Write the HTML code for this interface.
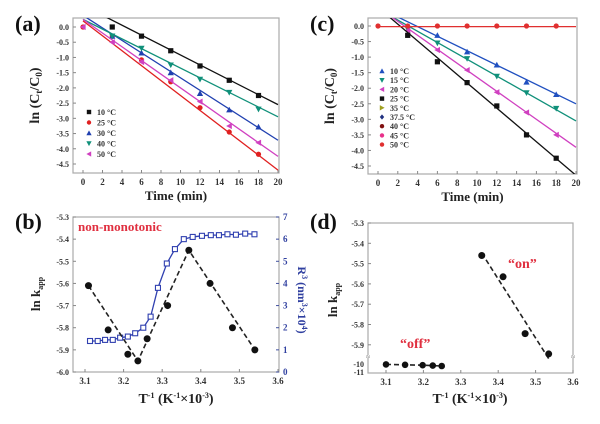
<!DOCTYPE html>
<html><head><meta charset="utf-8"><style>
body{margin:0;background:#fff;width:600px;height:419px;overflow:hidden}
svg{font-family:"Liberation Serif",serif;font-weight:bold}
</style></head><body>
<svg id="fig" width="600" height="419" viewBox="0 0 600 419"></svg>
<script>
// ---- panel (a) data ----
const aSeriesNames=["10 °C","25 °C","30 °C","40 °C","50 °C"];
const aColors=["#111","#e02020","#2040b0","#10907a","#d040c0"];
const aShapes=["sq","ci","tu","td","tl"];
const aTimes=[[3,6,9,12,15,18],[0,3,6,9,12,15,18],[3,6,9,12,15,18],[3,6,9,12,15,18],[0,3,6,9,12,15,18]];
const aVals=[[0.0,-0.3,-0.78,-1.28,-1.75,-2.25],[0.0,-0.3,-1.08,-1.8,-2.65,-3.45,-4.18],[-0.3,-0.85,-1.5,-2.18,-2.72,-3.28],[-0.3,-0.7,-1.25,-1.72,-2.15,-2.7],[0.0,-0.5,-1.15,-1.75,-2.45,-3.25,-3.8]];
const aLineEnd=[-2.55,-4.7,-3.72,-2.95,-4.25];
const aLineSlope=[-0.163,-0.245,-0.205,-0.16,-0.225];
// ---- panel (c) data ----
const cSeriesNames=["10 °C","15 °C","20 °C","25 °C","35 °C","37.5 °C","40 °C","45 °C","50 °C"];
const cColors=["#2050c0","#10907a","#d040c0","#111","#a0a020","#203080","#801010","#e8308a","#e03030"];
const cShapes=["tu","td","tl","sq","tr","di","ci","ci","ci"];
const cTimes=[[6,9,12,15,18],[3,6,9,12,15,18],[3,6,9,12,15,18],[3,6,9,12,15,18],[],[],[],[],[0,3,6,9,12,15,18]];
const cVals=[[-0.3,-0.83,-1.25,-1.8,-2.2],[-0.1,-0.55,-1.05,-1.62,-2.15,-2.65],[-0.15,-0.77,-1.42,-2.13,-2.78,-3.5],[-0.3,-1.15,-1.82,-2.57,-3.5,-4.25],[],[],[],[],[0,0,0,0,0,0,0]];
const cLineEnd=[-2.5,-3.05,-3.9,-4.8,null,null,null,null,-0.02];
const cLineSlope=[-0.155,-0.18,-0.225,-0.27,0,0,0,0,0];
// ---- panel (b) data ----
const bX=[3.109,3.160,3.211,3.237,3.261,3.314,3.369,3.424,3.482,3.540];
const bY=[-5.61,-5.81,-5.92,-5.95,-5.85,-5.70,-5.45,-5.60,-5.80,-5.90];
const bFitX=[3.109,3.237,3.369,3.540];
const bFitY=[-5.61,-5.95,-5.45,-5.90];
const bRX=[3.113,3.133,3.152,3.172,3.191,3.211,3.230,3.251,3.270,3.289,3.312,3.333,3.356,3.379,3.403,3.426,3.447,3.469,3.491,3.515,3.539];
const bRY=[1.4,1.4,1.45,1.45,1.55,1.6,1.75,2.0,2.5,3.8,4.9,5.55,6.0,6.1,6.15,6.18,6.18,6.22,6.2,6.25,6.22];
// ---- panel (d) data ----
const dOnX=[3.356,3.413,3.472,3.535];
const dOnY=[-5.46,-5.565,-5.845,-5.945];
const dOffX=[3.10,3.151,3.198,3.225,3.249];
const dOffY=[-10.05,-10.1,-10.15,-10.2,-10.25];

const svg=document.getElementById('fig');
const NS="http://www.w3.org/2000/svg";
function mk(tag,attrs,parent){const e=document.createElementNS(NS,tag);for(const k in attrs)e.setAttribute(k,attrs[k]);(parent||svg).appendChild(e);return e;}
function txt(x,y,s,size,anchor,fill,parent){const t=mk('text',{x:x,y:y,'font-size':size,'text-anchor':anchor||'middle',fill:fill||'#222'},parent);t.textContent=s;return t;}
function marker(shape,x,y,r,color,parent){
  let e;
  if(shape==='sq')e=mk('rect',{x:x-r,y:y-r,width:2*r,height:2*r,fill:color},parent);
  else if(shape==='ci')e=mk('circle',{cx:x,cy:y,r:r,fill:color},parent);
  else if(shape==='di')e=mk('polygon',{points:`${x},${y-r*1.2} ${x+r},${y} ${x},${y+r*1.2} ${x-r},${y}`,fill:color},parent);
  else{let p;
    if(shape==='tu')p=`${x},${y-r*1.2} ${x+r*1.2},${y+r} ${x-r*1.2},${y+r}`;
    if(shape==='td')p=`${x},${y+r*1.2} ${x+r*1.2},${y-r} ${x-r*1.2},${y-r}`;
    if(shape==='tl')p=`${x-r*1.2},${y} ${x+r},${y-r*1.2} ${x+r},${y+r*1.2}`;
    if(shape==='tr')p=`${x+r*1.2},${y} ${x-r},${y-r*1.2} ${x-r},${y+r*1.2}`;
    e=mk('polygon',{points:p,fill:color},parent);}
  return e;
}
function frame(L,T,R,B,name){const g=mk('g',{});
  mk('rect',{x:L,y:T,width:R-L,height:B-T,fill:'none',stroke:'#aaa','stroke-width':1.2},g);return g;}
function clip(id,L,T,R,B){const c=mk('clipPath',{id:id});mk('rect',{x:L,y:T,width:R-L,height:B-T},c);}

function timePanel(opt){
  const {L,R,T,B,x0px,x20px,y0px,y45px,names,colors,shapes,times,vals,ends,slopes,legX,legY,legStep,label,pfx}=opt;
  const sx=t=>x0px+(x20px-x0px)*t/20;
  const sy=v=>y0px+(y45px-y0px)*(v/-4.5);
  frame(L,T,R,B,pfx+'-plot-area');
  clip(pfx+'clip',L,T,R,B);
  const ax=mk('g',{});
  for(let t=0;t<=20;t+=2){mk('line',{x1:sx(t),x2:sx(t),y1:B,y2:B-3,stroke:'#888'},ax);txt(sx(t),B+12,String(t),9,'middle','#333',ax);}
  const ay=mk('g',{});
  for(let i=0;i<=9;i++){const v=-0.5*i;mk('line',{x1:L,x2:L+3,y1:sy(v),y2:sy(v),stroke:'#888'},ay);txt(L-4,sy(v)+3,v.toFixed(1),8,'end','#333',ay);}
  const xt=txt((L+R)/2,B+27,'Time (min)',13);
  const yt=txt(0,0,'',14);yt.setAttribute('transform',`translate(${L-34},${(T+B)/2}) rotate(-90)`);
  yt.innerHTML='ln (C<tspan font-size="9" dy="3">t</tspan><tspan dy="-3">/C</tspan><tspan font-size="9" dy="3">0</tspan><tspan dy="-3">)</tspan>';
  
  const pl=txt(L-58,T+13,label,22,'start','#111');
  for(let s=0;s<names.length;s++){
    if(ends[s]!==null){
      const x1=0,y1=ends[s]-slopes[s]*20;
      const ln=mk('line',{x1:sx(x1),y1:sy(y1),x2:sx(20),y2:sy(ends[s]),stroke:colors[s],'stroke-width':1.3,'clip-path':`url(#${pfx}clip)`});
      
    }
    for(let i=0;i<times[s].length;i++){
      const m=marker(shapes[s],sx(times[s][i]),sy(vals[s][i]),2.6,colors[s]);
      
    }
    const lg=mk('g',{});
    marker(shapes[s],legX,legY+s*legStep,2.2,colors[s],lg);
    txt(legX+8,legY+s*legStep+3,names[s],8,'start','#333',lg);
  }
}
timePanel({L:73,R:279,T:18,B:173,x0px:83,x20px:278,y0px:27,y45px:164,names:aSeriesNames,colors:aColors,shapes:aShapes,times:aTimes,vals:aVals,ends:aLineEnd,slopes:aLineSlope,legX:89,legY:112,legStep:10.5,label:'(a)',pfx:'a'});
timePanel({L:368,R:577,T:18,B:174,x0px:378,x20px:576,y0px:26,y45px:166,names:cSeriesNames,colors:cColors,shapes:cShapes,times:cTimes,vals:cVals,ends:cLineEnd,slopes:cLineSlope,legX:382,legY:71,legStep:9.2,label:'(c)',pfx:'c'});

(function(){
  const L=73,R=279,T=217,B=372;
  const sx=v=>85+(v-3.1)*386;
  const sy=v=>T+(B-T)*(v+5.3)/-0.7;
  const sr=v=>B-(B-T)*v/7;
  frame(L,T,R,B,'b-plot-area');
  const ax=mk('g',{});
  for(let i=0;i<=5;i++){const v=3.1+0.1*i;mk('line',{x1:sx(v),x2:sx(v),y1:B,y2:B-3,stroke:'#888'},ax);txt(sx(v),B+12,v.toFixed(1),9,'middle','#333',ax);}
  const ay=mk('g',{});
  for(let i=0;i<=7;i++){const v=-5.3-0.1*i;mk('line',{x1:L,x2:L+3,y1:sy(v),y2:sy(v),stroke:'#888'},ay);txt(L-4,sy(v)+3,v.toFixed(1),8,'end','#333',ay);}
  const ar=mk('g',{});
  for(let i=0;i<=7;i++){mk('line',{x1:R,x2:R-3,y1:sr(i),y2:sr(i),stroke:'#4050a0'},ar);txt(R+4,sr(i)+3,String(i),9,'start','#3040a0',ar);}
  const xt=txt(176,403,'',14);xt.innerHTML='T<tspan font-size="8" dy="-5">-1</tspan><tspan dy="5"> (K</tspan><tspan font-size="8" dy="-5">-1</tspan><tspan dy="5">×10</tspan><tspan font-size="8" dy="-5">-3</tspan><tspan dy="5">)</tspan>';
  
  const yt=txt(0,0,'',13);yt.setAttribute('transform',`translate(40,294) rotate(-90)`);yt.innerHTML='ln k<tspan font-size="8" dy="3">app</tspan>';
  
  const yr=txt(0,0,'',12,'middle','#3040a0');yr.setAttribute('transform',`translate(298,300) rotate(90)`);
  yr.innerHTML='R<tspan font-size="8" dy="-4">3</tspan><tspan dy="4"> (nm</tspan><tspan font-size="8" dy="-4">3</tspan><tspan dy="4">×10</tspan><tspan font-size="8" dy="-4">4</tspan><tspan dy="4">)</tspan>';
  
  const pl=txt(15,229,'(b)',22,'start','#111');
  const nm=txt(78,231,'non-monotonic',13,'start','#e03040');
  const bl=mk('polyline',{points:bRX.map((x,i)=>sx(x)+','+sr(bRY[i])).join(' '),fill:'none',stroke:'#3040b0','stroke-width':1.3});
  
  bRX.forEach((x,i)=>{const r=mk('rect',{x:sx(x)-2.5,y:sr(bRY[i])-2.5,width:5,height:5,fill:'#fff',stroke:'#3040b0','stroke-width':1.1});
    });
  const fl=mk('polyline',{points:bFitX.map((x,i)=>sx(x)+','+sy(bFitY[i])).join(' '),fill:'none',stroke:'#222','stroke-width':1.6,'stroke-dasharray':'5,3'});
  
  bX.forEach((x,i)=>{const c=mk('circle',{cx:sx(x),cy:sy(bY[i]),r:3.5,fill:'#111'});});
})();

(function(){
  const L=368,R=573,T=223,B=373;
  const sx=v=>386+(v-3.1)*374;
  const sy=v=>T+(v+5.3)/-0.1*20.3;
  const sy2=v=>364+(v+10)*-8;
  frame(L,T,R,B,'d-plot-area');
  const ax=mk('g',{});
  for(let i=0;i<=5;i++){const v=3.1+0.1*i;mk('line',{x1:sx(v),x2:sx(v),y1:B,y2:B-3,stroke:'#888'},ax);txt(sx(v),B+12,v.toFixed(1),9,'middle','#333',ax);}
  const ay=mk('g',{});
  for(let i=0;i<=6;i++){const v=-5.3-0.1*i;mk('line',{x1:L,x2:L+3,y1:sy(v),y2:sy(v),stroke:'#888'},ay);txt(L-4,sy(v)+3,v.toFixed(1),8,'end','#333',ay);}
  [-10,-11].forEach(v=>{txt(L-4,sy2(v)+3,String(v),8,'end','#333',ay);});
  mk('rect',{x:L-3,y:355,width:6,height:3,fill:'#fff'},ay);txt(L,359,'≈',7,'middle','#888',ay);
  mk('rect',{x:R-3,y:355,width:6,height:3,fill:'#fff'},ay);txt(R,359,'≈',7,'middle','#888',ay);
  const xt=txt(470,403,'',14);xt.innerHTML='T<tspan font-size="8" dy="-5">-1</tspan><tspan dy="5"> (K</tspan><tspan font-size="8" dy="-5">-1</tspan><tspan dy="5">×10</tspan><tspan font-size="8" dy="-5">-3</tspan><tspan dy="5">)</tspan>';
  
  const yt=txt(0,0,'',13);yt.setAttribute('transform',`translate(337,300) rotate(-90)`);yt.innerHTML='ln k<tspan font-size="8" dy="3">app</tspan>';
  
  const pl=txt(310,229,'(d)',22,'start','#111');
  const on=txt(508,268,'“on”',14,'start','#e03040');
  const off=txt(400,348,'“off”',14,'start','#e03040');
  const n=dOnX.length;let mx=0,my=0;dOnX.forEach((x,i)=>{mx+=x;my+=dOnY[i];});mx/=n;my/=n;
  let sxy=0,sxx=0;dOnX.forEach((x,i)=>{sxy+=(x-mx)*(dOnY[i]-my);sxx+=(x-mx)*(x-mx);});const k=sxy/sxx;
  const x1=dOnX[0],x2=dOnX[n-1];
  const fl=mk('line',{x1:sx(x1),y1:sy(my+k*(x1-mx)),x2:sx(x2),y2:sy(my+k*(x2-mx)),stroke:'#222','stroke-width':1.6,'stroke-dasharray':'5,3'});
  
  const fo=mk('polyline',{points:dOffX.map((x,i)=>sx(x)+','+sy2(dOffY[i])).join(' '),fill:'none',stroke:'#222','stroke-width':1.6,'stroke-dasharray':'5,3'});
  
  dOnX.forEach((x,i)=>{const c=mk('circle',{cx:sx(x),cy:sy(dOnY[i]),r:3.5,fill:'#111'});});
  dOffX.forEach((x,i)=>{const c=mk('circle',{cx:sx(x),cy:sy2(dOffY[i]),r:3.3,fill:'#111'});});
})();
</script>
</body></html>
